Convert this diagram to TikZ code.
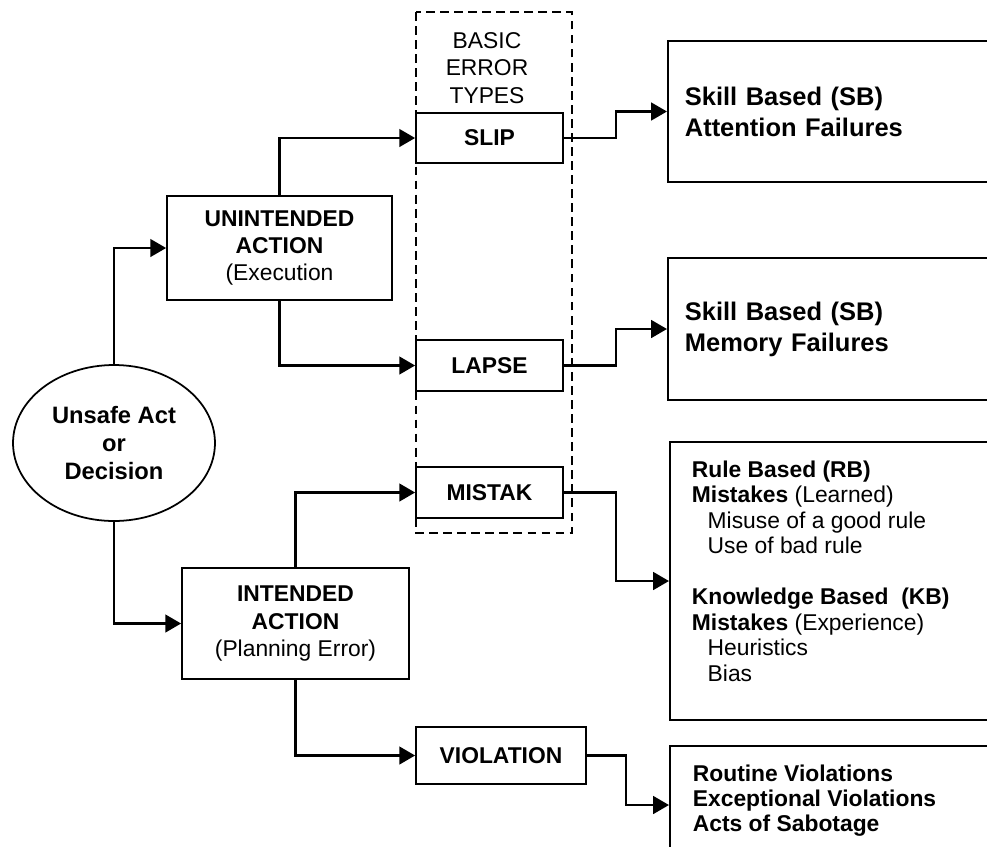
\documentclass[tikz,border=0pt]{standalone}
\usepackage{fontspec}
\setmainfont{Liberation Sans}
\usetikzlibrary{positioning,shapes.geometric,arrows.meta}
\tikzset{font=\fontsize{13}{15.5}\selectfont}

\begin{document}
\begin{tikzpicture}[x=0.02cm, y=-0.02cm]
	\useasboundingbox (0, 0) rectangle (987, 846);
	\clip (0, 0) rectangle (987, 846);
	\begin{scope}[line width=1pt]
		\tikzstyle{every node}=[align=center, inner sep=1pt]
		\tikzstyle{box}=[draw, rectangle, fill=white]
		\tikzstyle{typebox}=[box, font=\bfseries\fontsize{13}{15.5}\selectfont]
		\tikzstyle{conn}=[line width=1.5pt, -{Triangle[length=9pt, width=10pt]}]

		% basic error types frame
		\draw [dash pattern=on 5pt off 3pt, line width=0.9pt] (416, 12) rectangle (572, 533);
		\node (bet) at (487, 68) {BASIC\\ERROR\\TYPES};

		\node [draw, ellipse, minimum width=4.04cm, minimum height=3.12cm, font=\bfseries\fontsize{13.5}{16}\selectfont] (dec) at (114, 443) {Unsafe Act\\or\\Decision};

		\node [box, minimum width=4.5cm, minimum height=2.08cm] (una) at (279.5, 248) {\textbf{UNINTENDED}\\\textbf{ACTION}\\(Execution};
		\node [box, minimum width=4.54cm, minimum height=2.22cm] (ina) at (295.5, 623.5) {\textbf{INTENDED}\\\textbf{ACTION}\\(Planning Error)};

		\node [typebox, minimum width=2.94cm, minimum height=1cm] (slip) at (489.5, 138) {SLIP};
		\node [typebox, minimum width=2.94cm, minimum height=1.02cm] (lapse) at (489.5, 365.5) {LAPSE};
		\node [typebox, minimum width=2.94cm, minimum height=1.02cm] (mistak) at (489.5, 492.5) {MISTAK};
		\node [typebox, minimum width=3.4cm, minimum height=1.14cm] (violation) at (501, 755.5) {VIOLATION};

		\node [box, anchor=west, text width=7cm, inner xsep=0.34cm, minimum height=2.82cm, align=left, font=\bfseries\fontsize{14.5}{17.6}\selectfont] (sba) at (667, 111.5) {Skill Based (SB)\\Attention Failures};
		\node [box, anchor=west, text width=7cm, inner xsep=0.34cm, minimum height=2.84cm, align=left, font=\bfseries\fontsize{14.5}{17.6}\selectfont] (sbm) at (667, 329) {Skill Based (SB)\\Memory Failures};

		\node [box, anchor=west, minimum width=8cm, minimum height=5.56cm] (rkb) at (669, 581) {};
		\node [anchor=north west, align=left, inner sep=0pt, font=\fontsize{13}{14.5}\selectfont] (rkbtext) at (691, 460) {\textbf{Rule Based (RB)}\\\textbf{Mistakes} (Learned)\\\hspace*{9pt}Misuse of a good rule\\\hspace*{9pt}Use of bad rule\\[14.5pt]\textbf{Knowledge Based\ \ (KB)}\\\textbf{Mistakes} (Experience)\\\hspace*{9pt}Heuristics\\\hspace*{9pt}Bias};

		\node [box, anchor=west, minimum width=8cm, minimum height=2.36cm] (vbox) at (669, 805) {};
		\node [anchor=north west, align=left, inner sep=0pt, font=\bfseries\fontsize{13}{14.2}\selectfont] (vboxtext) at (692, 764) {Routine Violations\\Exceptional Violations\\Acts of Sabotage};

		\draw [conn] (dec.north) |- (una.west);
		\draw [conn] (dec.south) |- (ina.west);
		\draw [conn] (una.north) |- (slip.west);
		\draw [conn] (una.south) |- (lapse.west);
		\draw [conn] (ina.north) |- (mistak.west);
		\draw [conn] (ina.south) |- (violation.west);

		\draw [conn] (slip.east) -- ++(52, 0) |- (sba.west);
		\draw [conn] (lapse.east) -- ++(52, 0) |- (sbm.west);
		\draw [conn] (mistak.east) -- ++(52, 0) |- (rkb.west);
		\draw [conn] (violation.east) -- ++(39, 0) |- (vbox.west);
	\end{scope}
\end{tikzpicture}
\end{document}
